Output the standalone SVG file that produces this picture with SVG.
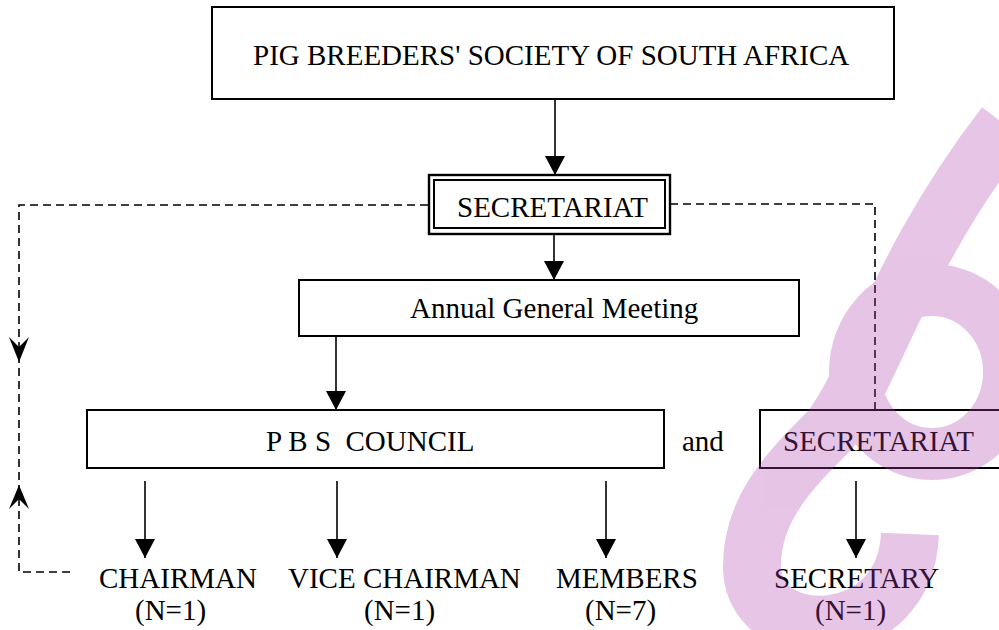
<svg xmlns="http://www.w3.org/2000/svg" width="999" height="630" viewBox="0 0 999 630">
<style>
.box{fill:none;stroke:#000;stroke-width:2}
.t{font-family:"Liberation Serif","Times New Roman",serif;font-size:29px;fill:#000}
.solid{stroke:#000;stroke-width:1.6;fill:none}
.dash{stroke:#000;stroke-width:1.6;fill:none;stroke-dasharray:8 5}
.head{fill:#000;stroke:none}
.wm{fill:none;stroke:#b040b0}
</style>
<defs>
<marker id="arr" viewBox="0 0 19 20" refX="19" refY="10" markerWidth="19" markerHeight="20" markerUnits="userSpaceOnUse" orient="auto">
<path d="M0,0 L19,10 L0,20 z" fill="#000"/>
</marker>
</defs>
<rect width="999" height="630" fill="#fff"/>

<g id="connectors">
<line class="solid" x1="555" y1="99" x2="555" y2="175" marker-end="url(#arr)"/>
<line class="solid" x1="554" y1="235" x2="554" y2="280" marker-end="url(#arr)"/>
<line class="solid" x1="336" y1="336" x2="336" y2="410" marker-end="url(#arr)"/>
<line class="solid" x1="145" y1="481" x2="145" y2="558" marker-end="url(#arr)"/>
<line class="solid" x1="337" y1="481" x2="337" y2="558" marker-end="url(#arr)"/>
<line class="solid" x1="606" y1="481" x2="606" y2="558" marker-end="url(#arr)"/>
<line class="solid" x1="856" y1="481" x2="856" y2="558" marker-end="url(#arr)"/>
<path class="dash" d="M70,572 H19 V205 H429"/>
<path class="dash" d="M670,204 H875 V410"/>
<polygon class="head" points="19,362 9,337 19,347 29,337"/>
<polygon class="head" points="19,485 9,509 19,499 29,509"/>
</g>

<g id="n-society">
<rect class="box" x="212" y="7" width="682" height="92"/>
<text class="t" x="253" y="65">PIG BREEDERS' SOCIETY OF SOUTH AFRICA</text>
</g>
<g id="n-secretariat-top">
<rect x="429" y="175" width="241" height="59" fill="#fff" stroke="#000" stroke-width="2.4"/>
<rect class="box" x="434" y="180" width="231" height="48"/>
<text class="t" x="457" y="217">SECRETARIAT</text>
</g>
<g id="n-agm">
<rect class="box" x="299" y="280" width="500" height="56"/>
<text class="t" x="410" y="318">Annual General Meeting</text>
</g>
<g id="n-council">
<rect class="box" x="87" y="410" width="577" height="58"/>
<text class="t" x="266" y="451" xml:space="preserve">P B S  COUNCIL</text>
</g>
<g id="n-and">
<text class="t" x="682" y="451">and</text>
</g>
<g id="n-secretariat">
<rect class="box" x="760" y="410" width="270" height="58"/>
<text class="t" x="783" y="451">SECRETARIAT</text>
</g>
<g id="n-chairman">
<text class="t" x="99" y="588">CHAIRMAN</text>
<text class="t" x="135" y="620">(N=1)</text>
</g>
<g id="n-vice">
<text class="t" x="288" y="588">VICE CHAIRMAN</text>
<text class="t" x="364" y="620">(N=1)</text>
</g>
<g id="n-members">
<text class="t" x="556" y="588">MEMBERS</text>
<text class="t" x="585" y="620">(N=7)</text>
</g>
<g id="n-secretary">
<text class="t" x="774" y="588">SECRETARY</text>
<text class="t" x="815" y="620">(N=1)</text>
</g>

<g id="watermark" opacity="0.3">
<ellipse class="wm" cx="932" cy="372" rx="77" ry="82" stroke-width="52"/>
<path class="wm" d="M910,534 C905,648 756,648 752,570 C750,510 790,470 830,430 C870,380 900,260 1005,125" stroke-width="58"/>
</g>
</svg>
